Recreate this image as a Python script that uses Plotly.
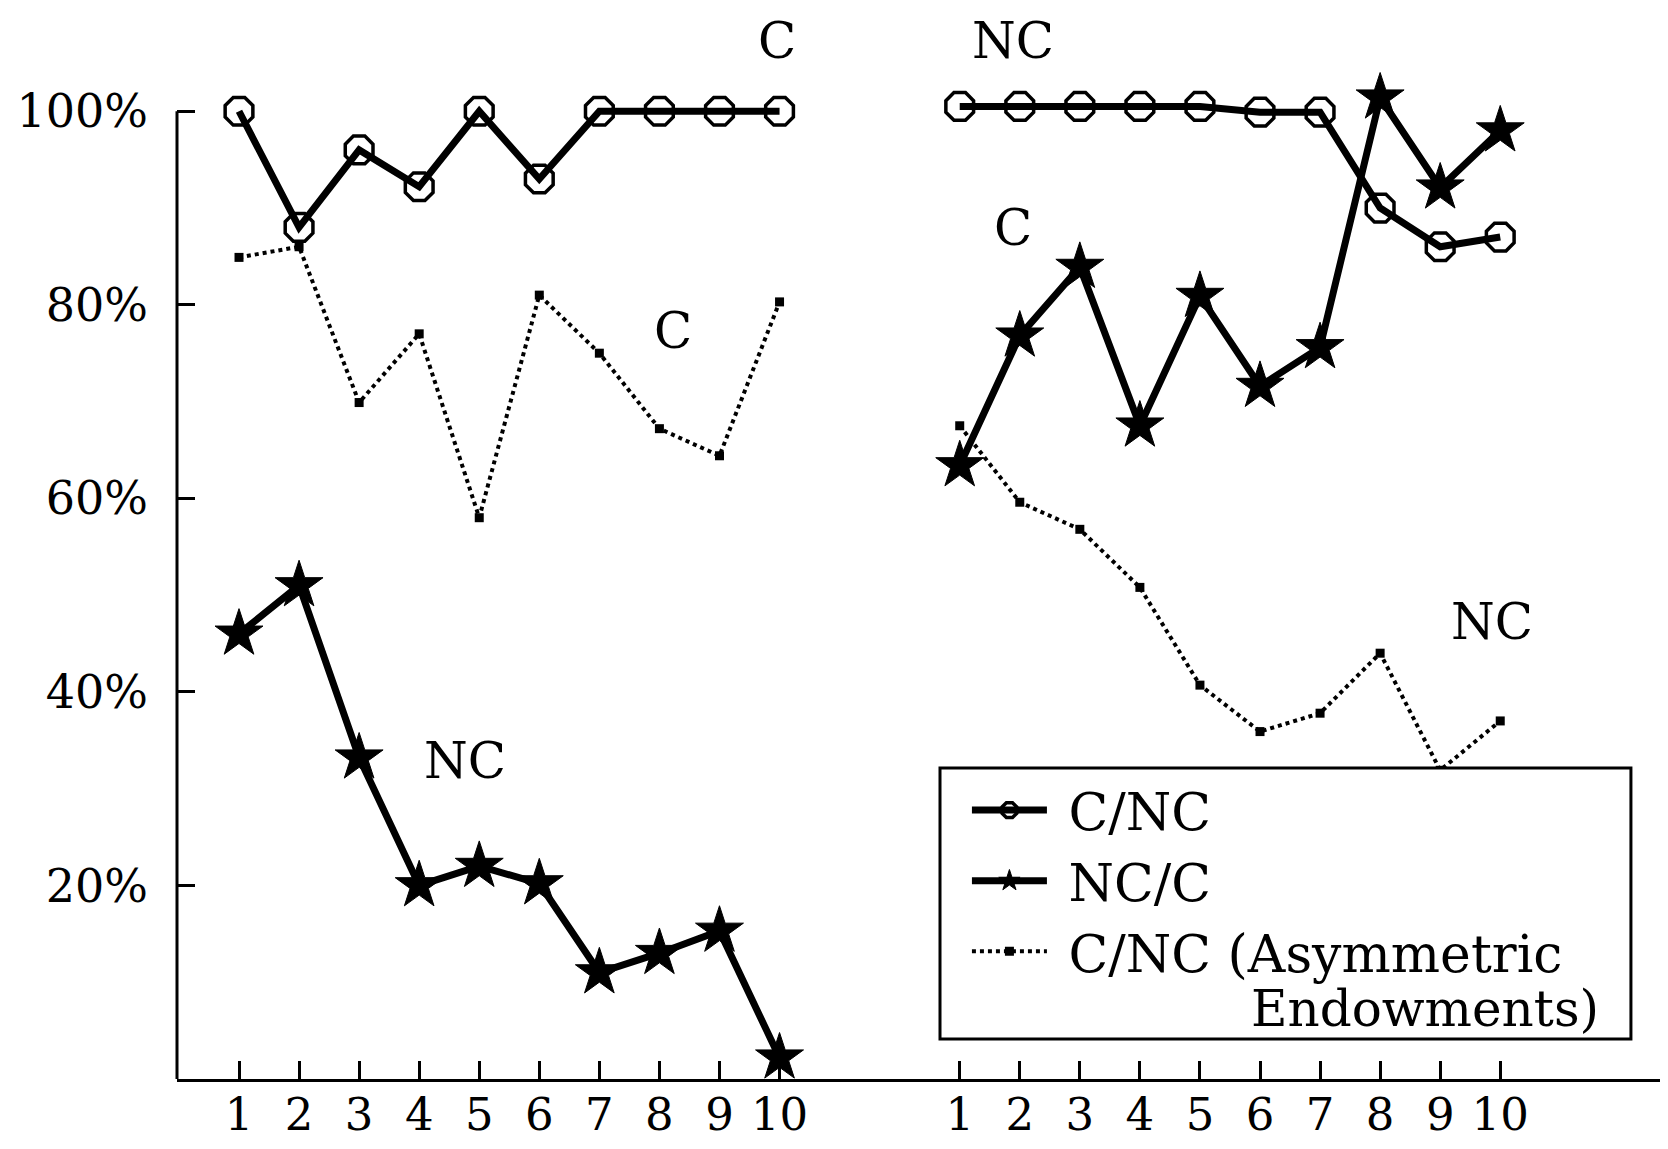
import plotly.graph_objects as go

# ---- data ----
rounds = list(range(1, 11))
tick_labels = [str(r) for r in rounds]

# left block (first sequence of 10 rounds)
cnc_left = [100, 88, 96, 92.2, 100, 93, 100, 100, 100, 100]
ncc_left = [46, 51, 33.2, 20, 22, 20.2, 11, 13, 15.3, 2.2]
asym_left = [84.9, 86, 69.9, 77, 58, 81, 75, 67.2, 64.4, 80.3]

# right block (second sequence of 10 rounds)
cnc_right = [100.5, 100.5, 100.5, 100.5, 100.5, 99.9, 99.9, 90, 86, 87]
ncc_right = [63.4, 76.8, 83.9, 67.5, 80.9, 71.6, 75.6, 101.4, 92.1, 98]
asym_right = [67.5, 59.6, 56.8, 50.8, 40.7, 35.9, 37.8, 44, 31.9, 37]

y_ticks = [20, 40, 60, 80, 100]
y_tick_labels = ["20%", "40%", "60%", "80%", "100%"]

NB = "\u00a0"
series_names = [NB + "C/NC", NB + "NC/C", NB + "C/NC (Asymmetric"]
legend_cont = "Endowments)"

# ---- layout helpers ----
GAP = 12  # second block drawn after a gap on the same axis
x_left = rounds
x_right = [r + GAP for r in rounds]
x_all = x_left + [None] + x_right

FONT = "DejaVu Serif"
Y_TOP = 110.67

fig = go.Figure()

fig.add_trace(go.Scatter(
    x=x_all, y=cnc_left + [None] + cnc_right, name=series_names[0],
    mode="lines+markers",
    line=dict(color="black", width=7),
    marker=dict(symbol="octagon-open", size=30, color="black",
                line=dict(color="black", width=3.5)),
))
fig.add_trace(go.Scatter(
    x=x_all, y=ncc_left + [None] + ncc_right, name=series_names[1],
    mode="lines+markers",
    line=dict(color="black", width=7),
    marker=dict(symbol="star", size=36, color="black",
                line=dict(color="black", width=1)),
))
fig.add_trace(go.Scatter(
    x=x_all, y=asym_left + [None] + asym_right, name=series_names[2],
    mode="lines+markers",
    line=dict(color="black", width=4, dash="dot"),
    marker=dict(symbol="square", size=9, color="black"),
))

# text labels inside the chart
labels = [
    ("C", 9.95, 107.3), ("NC", 13.88, 107.3),
    ("C", 8.22, 77.3), ("NC", 4.76, 32.9),
    ("C", 13.88, 87.9), ("NC", 21.87, 47.2),
]
for txt, lx, ly in labels:
    fig.add_annotation(x=lx, y=ly, xref="x", yref="y", text=txt,
                       showarrow=False, borderpad=0,
                       font=dict(family=FONT, size=50, color="black"))

# vertical axis line only up to the 100% tick
fig.add_shape(type="line", xref="paper", yref="y", x0=0, x1=0,
              y0=0, y1=100, line=dict(color="black", width=3))

# legend frame and wrapped continuation of the third entry
fig.add_shape(type="rect", xref="paper", yref="paper",
              x0=0.5145, x1=0.9804, y0=0.0373, y1=0.2904,
              line=dict(color="black", width=3), fillcolor="white",
              layer="above")
fig.add_annotation(x=0.7235, y=0.0655, xref="paper", yref="paper",
                   xanchor="left", yanchor="middle", text=legend_cont,
                   showarrow=False, borderpad=0,
                   font=dict(family=FONT, size=50, color="black"))

fig.update_layout(
    template="none",
    width=1652, height=1133,
    margin=dict(l=169, r=0, t=0, b=62),
    paper_bgcolor="white", plot_bgcolor="white",
    showlegend=True,
    legend=dict(
        x=0.5158, y=0.2887, xanchor="left", yanchor="top",
        bgcolor="rgba(0,0,0,0)", borderwidth=0,
        font=dict(family=FONT, size=52, color="black"),
        itemwidth=75, tracegroupgap=0, indentation=25,
    ),
    font=dict(family=FONT, color="black"),
)

fig.update_xaxes(
    automargin=False,
    range=[-0.0325, 24.66], showgrid=False, zeroline=False,
    showline=True, linecolor="black", linewidth=3,
    ticks="inside", ticklen=18, tickwidth=3, tickcolor="black",
    tickvals=x_left + x_right, ticktext=tick_labels + tick_labels,
    tickfont=dict(family=FONT, size=45, color="black"),
    ticklabelstandoff=-6,
)
fig.update_yaxes(
    automargin=False,
    range=[0, Y_TOP], showgrid=False, zeroline=False,
    showline=False,
    ticks="inside", ticklen=18, tickwidth=3, tickcolor="black",
    tickvals=y_ticks, ticktext=y_tick_labels,
    tickfont=dict(family=FONT, size=46, color="black"),
    ticklabelstandoff=28,
)

fig.write_html("out.html")
